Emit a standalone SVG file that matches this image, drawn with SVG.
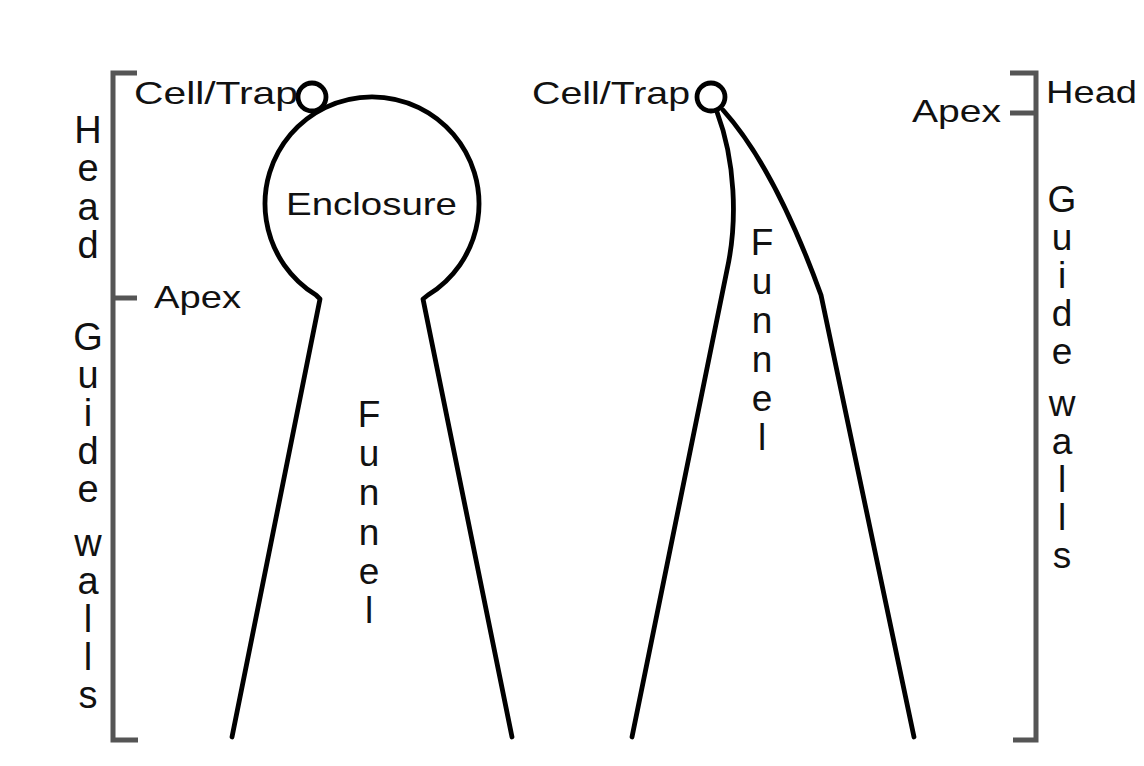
<svg xmlns="http://www.w3.org/2000/svg" width="1144" height="766" viewBox="0 0 1144 766">
<style>
.ln{fill:none;stroke:#000;stroke-width:4.8;stroke-linejoin:round;stroke-linecap:round}
.br{fill:none;stroke:#555;stroke-width:5;stroke-linecap:butt;stroke-linejoin:miter}
.lb{font-family:"Liberation Sans",Arial,sans-serif;font-size:32px;fill:#111}
.vt{font-family:"Liberation Sans",Arial,sans-serif;font-size:38px;fill:#111;text-anchor:middle}
.vs{font-family:"Liberation Sans",Arial,sans-serif;font-size:37px;fill:#111;text-anchor:middle}
</style>
<rect width="1144" height="766" fill="#fff"/>

<g id="left-bracket">
<path class="br" d="M137 73 H113 V740 H138"/>
<path class="br" d="M113 298 H137"/>
<text class="vt"><tspan x="88" y="143">H</tspan><tspan x="88" y="181">e</tspan><tspan x="88" y="220">a</tspan><tspan x="88" y="258">d</tspan></text>
<text class="vt"><tspan x="88" y="350">G</tspan><tspan x="88" y="388">u</tspan><tspan x="88" y="426">i</tspan><tspan x="88" y="464">d</tspan><tspan x="88" y="502">e</tspan><tspan x="88" y="556">w</tspan><tspan x="88" y="594">a</tspan><tspan x="88" y="632">l</tspan><tspan x="88" y="670">l</tspan><tspan x="88" y="708">s</tspan></text>
<text class="lb" x="154" y="308" textLength="87" lengthAdjust="spacingAndGlyphs">Apex</text>
</g>

<g id="left-trap">
<circle class="ln" cx="312" cy="97" r="14"/>
<text class="lb" x="134" y="104" textLength="164" lengthAdjust="spacingAndGlyphs">Cell/Trap</text>
</g>

<g id="left-enclosure">
<path class="ln" d="M232 737 L320 299 L316 295 A107 107 0 1 1 428 295 L423 299 L512 737"/>
<text class="lb" x="286" y="215" textLength="171" lengthAdjust="spacingAndGlyphs">Enclosure</text>
<text class="vs"><tspan x="369" y="427">F</tspan><tspan x="369" y="466">u</tspan><tspan x="369" y="505">n</tspan><tspan x="369" y="545">n</tspan><tspan x="369" y="584">e</tspan><tspan x="369" y="623">l</tspan></text>
</g>

<g id="right-trap">
<circle class="ln" cx="711" cy="97" r="14"/>
<text class="lb" x="532" y="104" textLength="158" lengthAdjust="spacingAndGlyphs">Cell/Trap</text>
</g>

<g id="connectors">
<path class="ln" d="M717 112 C735 160 738 220 727 270 L632 737"/>
<path class="ln" d="M723 110 Q775 168 821 295 L914 737"/>
</g>

<g id="right-funnel-label">
<text class="vs"><tspan x="762" y="255">F</tspan><tspan x="762" y="294">u</tspan><tspan x="762" y="333">n</tspan><tspan x="762" y="372">n</tspan><tspan x="762" y="411">e</tspan><tspan x="762" y="450">l</tspan></text>
</g>

<g id="right-bracket">
<path class="br" d="M1010 73 H1036 V740 H1013"/>
<path class="br" d="M1010 113 H1036"/>
<text class="lb" x="1046" y="103" textLength="91" lengthAdjust="spacingAndGlyphs">Head</text>
<text class="lb" x="912" y="122" textLength="89" lengthAdjust="spacingAndGlyphs">Apex</text>
<text class="vs"><tspan x="1062" y="212">G</tspan><tspan x="1062" y="250">u</tspan><tspan x="1062" y="288">i</tspan><tspan x="1062" y="326">d</tspan><tspan x="1062" y="364">e</tspan><tspan x="1062" y="416">w</tspan><tspan x="1062" y="454">a</tspan><tspan x="1062" y="492">l</tspan><tspan x="1062" y="530">l</tspan><tspan x="1062" y="568">s</tspan></text>
</g>
</svg>
